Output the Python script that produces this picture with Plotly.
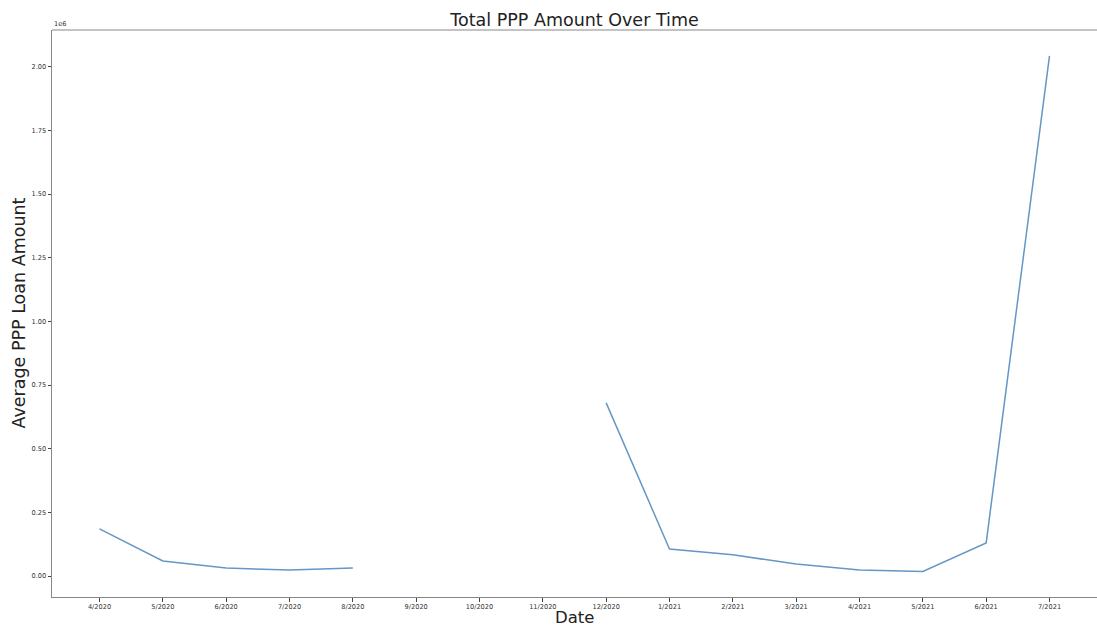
import plotly.graph_objects as go

months = ["4/2020", "5/2020", "6/2020", "7/2020", "8/2020", "9/2020", "10/2020", "11/2020",
          "12/2020", "1/2021", "2/2021", "3/2021", "4/2021", "5/2021", "6/2021", "7/2021"]
avg_amount = [185000, 59000, 31000, 24000, 31000, None, None, None,
              680000, 106000, 83000, 47000, 24000, 18000, 130000, 2043000]
y_ticks = [0, 250000, 500000, 750000, 1000000, 1250000, 1500000, 1750000, 2000000]
y_tick_labels = ["0.00", "0.25", "0.50", "0.75", "1.00", "1.25", "1.50", "1.75", "2.00"]

W, H = 1097, 626
L, R, T, B = 52, 0, 30, 29

fig = go.Figure()
fig.add_trace(go.Scatter(
    x=months, y=avg_amount, mode="lines", connectgaps=False,
    line=dict(color="#6497c6", width=1.5), showlegend=False,
))

font = "DejaVu Sans, sans-serif"
fig.update_layout(
    width=W, height=H,
    margin=dict(l=L, r=R, t=T, b=B, autoexpand=False),
    paper_bgcolor="white", plot_bgcolor="white",
    font=dict(family=font, color="#333333"),
    title=dict(text="Total PPP Amount Over Time", x=574.5 / W, xanchor="center",
               y=1 - 20 / H, yanchor="middle", automargin=False,
               font=dict(size=17.5, color="#222222", family=font)),
    xaxis=dict(type="category", categoryorder="array", categoryarray=months,
               range=[-0.75, 15.75], showgrid=False, zeroline=False, automargin=False,
               showline=True, linecolor="#888888", linewidth=1, mirror=False,
               ticks="outside", ticklen=3.5, tickcolor="#444444", tickwidth=0.8,
               tickfont=dict(size=6.6, color="#333333", family=font)),
    yaxis=dict(range=[-82500, 2145000], showgrid=False, zeroline=False, automargin=False,
               showline=True, linecolor="#888888", linewidth=1,
               ticks="outside", ticklen=3.5, tickcolor="#444444", tickwidth=0.8,
               tickvals=y_ticks, ticktext=y_tick_labels,
               tickfont=dict(size=6.6, color="#333333", family=font)),
    shapes=[dict(type="line", xref="paper", yref="paper", x0=0, x1=1, y0=1, y1=1,
                 line=dict(color="#888888", width=1))],
    annotations=[
        dict(text="1e6", xref="paper", yref="paper", x=0, y=1, xanchor="left", yanchor="bottom",
             showarrow=False, font=dict(size=6.6, color="#333333", family=font), yshift=0),
        dict(text="Date", xref="paper", yref="paper", x=0.5, y=0, xanchor="center", yanchor="top",
             yshift=-9, showarrow=False, font=dict(size=16.5, color="#222222", family=font)),
        dict(text="Average PPP Loan Amount", xref="paper", yref="paper", x=0, y=0.5,
             xanchor="center", yanchor="middle", xshift=-34, textangle=-90,
             showarrow=False, font=dict(size=17.5, color="#222222", family=font)),
    ],
)

fig.write_html(
    "out.html",
    config={"displayModeBar": False},
    post_script="document.body.style.margin='0';document.documentElement.style.overflow='hidden';",
)
